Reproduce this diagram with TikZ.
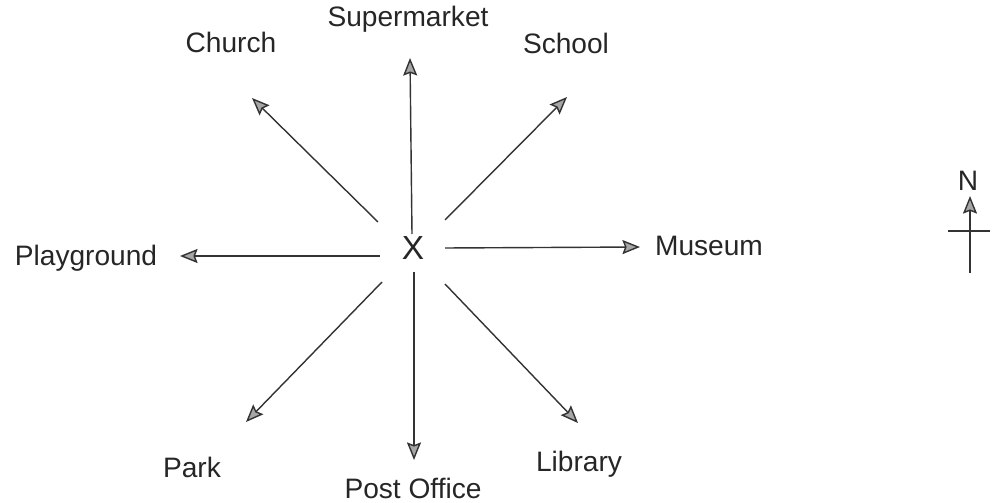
\documentclass[tikz,border=0pt]{standalone}
\usepackage{fontspec}
\setmainfont{Liberation Sans}
\usepackage{xcolor}
\usetikzlibrary{calc, arrows.meta, positioning}

\begin{document}
\begin{tikzpicture}[>={Stealth[length=10pt, width=8pt, inset=1.5pt, fill=gray!70]}, scale=1,
    place/.style={font=\fontsize{16}{19}\selectfont, text=black!85},
    road/.style={->, thick, draw=black!80}]
    \useasboundingbox (0,0) rectangle (19.88,10.04);

    % Điểm X ở giữa
    \node[place, font=\fontsize{19}{22}\selectfont] (x) at (8.26,5.08) {X};

    % Tên các địa điểm
    \node[place] (sup) at (8.16,9.66) {Supermarket};
    \node[place] (church) at (4.62,9.20) {Church};
    \node[place] (school) at (11.32,9.18) {School};
    \node[place] (play) at (1.72,4.88) {Playground};
    \node[place] (mus) at (14.18,5.12) {Museum};
    \node[place] (park) at (3.84,0.70) {Park};
    \node[place] (post) at (8.26,0.28) {Post Office};
    \node[place] (lib) at (11.58,0.76) {Library};

    % Đầu và cuối các mũi tên
    \coordinate (s1) at (8.24,5.36); \coordinate (t1) at (8.20,8.88);
    \coordinate (s2) at (7.56,5.60); \coordinate (t2) at (5.04,8.08);
    \coordinate (s3) at (8.90,5.64); \coordinate (t3) at (11.34,8.10);
    \coordinate (s4) at (7.60,4.92); \coordinate (t4) at (3.60,4.92);
    \coordinate (s5) at (8.90,5.08); \coordinate (t5) at (12.80,5.10);
    \coordinate (s6) at (7.64,4.40); \coordinate (t6) at (4.92,1.60);
    \coordinate (s7) at (8.28,4.60); \coordinate (t7) at (8.28,0.84);
    \coordinate (s8) at (8.90,4.36); \coordinate (t8) at (11.56,1.58);

    % Các mũi tên từ X
    \foreach \i in {1,...,8}
        \draw[road] (s\i) -- (t\i);

    % Hướng Bắc
    \node[place] (n) at (19.36,6.42) {N};
    \coordinate (nb) at (19.40,4.58);
    \coordinate (nt) at (19.40,6.12);
    \coordinate (wl) at (18.96,5.42);
    \coordinate (wr) at (19.80,5.42);
    \draw[road] (nb) -- (nt);
    \draw[thick, draw=black!80] (wl) -- (wr);
\end{tikzpicture}
\end{document}
